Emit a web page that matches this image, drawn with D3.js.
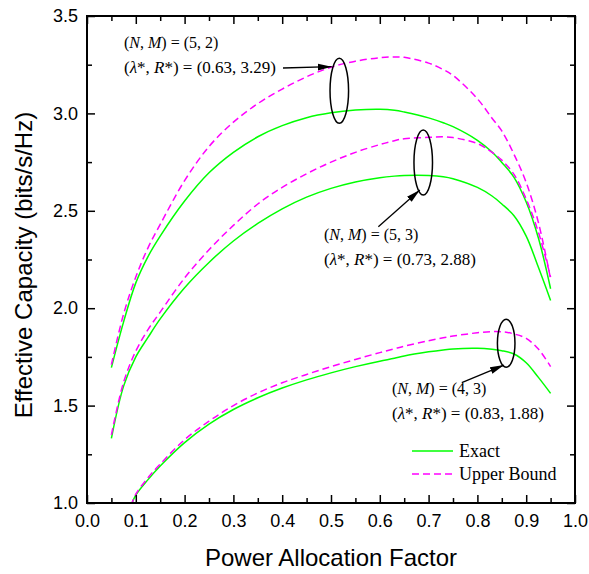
<!DOCTYPE html>
<html>
<head>
<meta charset="utf-8">
<script src="https://cdn.jsdelivr.net/npm/d3@7"></script>
<style>
  body { margin: 0; background: #fff; }
  svg { display: block; }
</style>
</head>
<body>
<svg id="chart" width="589" height="574"></svg>
<script>
// Power allocation factor grid shared by the (5,2) and (5,3) curves
const lambda = [0.05, 0.075, 0.1, 0.125, 0.15, 0.2, 0.25, 0.3, 0.35, 0.4, 0.45, 0.5, 0.55, 0.6, 0.63, 0.65, 0.7, 0.73, 0.75, 0.8, 0.83, 0.85, 0.875, 0.9, 0.925, 0.95];

// (N, M) = (5, 2)
const exact52 = [1.695, 1.93, 2.13, 2.265, 2.37, 2.55, 2.695, 2.80, 2.88, 2.937, 2.978, 3.003, 3.017, 3.021, 3.016, 3.007, 2.977, 2.952, 2.932, 2.862, 2.802, 2.748, 2.672, 2.545, 2.36, 2.10];
const upper52 = [1.71, 1.97, 2.16, 2.31, 2.43, 2.655, 2.83, 2.955, 3.05, 3.125, 3.188, 3.237, 3.268, 3.286, 3.29, 3.288, 3.258, 3.225, 3.195, 3.075, 2.975, 2.91, 2.79, 2.645, 2.44, 2.15];

// (N, M) = (5, 3)
const exact53 = [1.332, 1.60, 1.75, 1.85, 1.945, 2.105, 2.235, 2.345, 2.435, 2.51, 2.57, 2.615, 2.648, 2.67, 2.678, 2.681, 2.681, 2.675, 2.665, 2.62, 2.576, 2.535, 2.475, 2.37, 2.21, 2.04];
const upper53 = [1.35, 1.62, 1.78, 1.89, 1.98, 2.155, 2.30, 2.425, 2.535, 2.62, 2.69, 2.75, 2.80, 2.84, 2.86, 2.87, 2.877, 2.88, 2.876, 2.845, 2.80, 2.76, 2.687, 2.56, 2.39, 2.16];

// (N, M) = (4, 3) starts a little later
const lambda43 = [0.09, 0.1, 0.125, 0.15, 0.2, 0.25, 0.3, 0.35, 0.4, 0.45, 0.5, 0.55, 0.6, 0.63, 0.65, 0.7, 0.73, 0.75, 0.8, 0.83, 0.85, 0.875, 0.9, 0.925, 0.95];
const exact43 = [0.985, 1.04, 1.12, 1.19, 1.31, 1.405, 1.48, 1.54, 1.59, 1.632, 1.668, 1.70, 1.728, 1.743, 1.755, 1.776, 1.786, 1.791, 1.794, 1.789, 1.782, 1.765, 1.72, 1.645, 1.563];
const upper43 = [0.985, 1.045, 1.13, 1.20, 1.325, 1.42, 1.50, 1.565, 1.617, 1.66, 1.70, 1.737, 1.772, 1.792, 1.805, 1.833, 1.848, 1.857, 1.874, 1.88, 1.879, 1.868, 1.845, 1.79, 1.70];

// Axis ticks
const xTicks = [0, 0.1, 0.2, 0.3, 0.4, 0.5, 0.6, 0.7, 0.8, 0.9, 1.0];
const xMinorTicks = [0.05, 0.15, 0.25, 0.35, 0.45, 0.55, 0.65, 0.75, 0.85, 0.95];
const yTicks = [1.0, 1.5, 2.0, 2.5, 3.0, 3.5];
const yMinorTicks = [1.25, 1.75, 2.25, 2.75, 3.25];

// Optimal points annotated on the plot
const pairs = [[5, 2], [5, 3], [4, 3]];
const optLambda = [0.63, 0.73, 0.83];
const optRate = [3.29, 2.88, 1.88];

// Marker ellipses (centre and radii in data units)
const ellipseCx = [0.517, 0.689, 0.859];
const ellipseCy = [3.116, 2.748, 1.820];
const ellipseRx = [0.019, 0.019, 0.018];
const ellipseRy = [0.167, 0.167, 0.123];

// Arrows from labels to ellipses (data units)
const arrowFrom = [[0.4016, 3.233], [0.597, 2.418], [0.768, 1.618]];
const arrowTo = [[0.5014, 3.240], [0.682, 2.607], [0.8545, 1.708]];

// Label anchors (first line baseline, data units)
const labelAt = [[0.0758, 3.337], [0.4857, 2.350], [0.625, 1.5595]];

const legendLabels = ["Exact", "Upper Bound"];

const GREEN = "#00ff00";
const MAGENTA = "#ff00ff";

const svg = d3.select("#chart");
const plotLeft = 87, plotRight = 575, plotTop = 16, plotBottom = 503;

const x = d3.scaleLinear().domain([0, 1]).range([plotLeft, plotRight]);
const y = d3.scaleLinear().domain([1, 3.5]).range([plotBottom, plotTop]);

// clip region for the curves
const defs = svg.append("defs");
defs.append("clipPath").attr("id", "plotClip")
  .append("rect").attr("x", plotLeft).attr("y", plotTop)
  .attr("width", plotRight - plotLeft).attr("height", plotBottom - plotTop);

defs.append("marker")
  .attr("id", "arrowHead")
  .attr("viewBox", "0 0 14 8")
  .attr("refX", 14).attr("refY", 4)
  .attr("markerWidth", 14).attr("markerHeight", 8)
  .attr("markerUnits", "userSpaceOnUse")
  .attr("orient", "auto")
  .append("path").attr("d", "M0,0.5 L14,4 L0,7.5 Z").attr("fill", "#000");

// --- Curves ---
const line = d3.line()
  .x(d => x(d[0]))
  .y(d => y(d[1]))
  .curve(d3.curveCatmullRom.alpha(0.5));

const series = [
  { xs: lambda, ys: exact52, dashed: false },
  { xs: lambda, ys: exact53, dashed: false },
  { xs: lambda43, ys: exact43, dashed: false },
  { xs: lambda, ys: upper52, dashed: true },
  { xs: lambda, ys: upper53, dashed: true },
  { xs: lambda43, ys: upper43, dashed: true }
];

const curves = svg.append("g").attr("clip-path", "url(#plotClip)");
series.forEach(s => {
  curves.append("path")
    .datum(s.xs.map((v, i) => [v, s.ys[i]]))
    .attr("d", line)
    .attr("fill", "none")
    .attr("stroke", s.dashed ? MAGENTA : GREEN)
    .attr("stroke-width", 1.5)
    .attr("stroke-dasharray", s.dashed ? "7,4" : null);
});

// --- Axes ---
const axisFont = "'Liberation Sans', Arial, sans-serif";

function styleAxis(g) {
  g.select(".domain").remove();
  g.selectAll(".tick line").attr("stroke", "#000").attr("stroke-width", 1.5);
  g.selectAll(".tick text")
    .attr("fill", "#000")
    .style("font-family", axisFont)
    .style("font-size", "18px");
}

svg.append("g").attr("transform", `translate(0,${plotBottom})`)
  .call(d3.axisBottom(x).tickValues(xTicks).tickFormat(d3.format(".1f")).tickSizeInner(-8).tickSizeOuter(0).tickPadding(11))
  .call(styleAxis);
svg.append("g").attr("transform", `translate(0,${plotBottom})`)
  .call(d3.axisBottom(x).tickValues(xMinorTicks).tickFormat("").tickSizeInner(-5).tickSizeOuter(0))
  .call(styleAxis);
svg.append("g").attr("transform", `translate(0,${plotTop})`)
  .call(d3.axisTop(x).tickValues(xTicks).tickFormat("").tickSizeInner(-8).tickSizeOuter(0))
  .call(styleAxis);
svg.append("g").attr("transform", `translate(0,${plotTop})`)
  .call(d3.axisTop(x).tickValues(xMinorTicks).tickFormat("").tickSizeInner(-5).tickSizeOuter(0))
  .call(styleAxis);

svg.append("g").attr("transform", `translate(${plotLeft},0)`)
  .call(d3.axisLeft(y).tickValues(yTicks).tickFormat(d3.format(".1f")).tickSizeInner(-8).tickSizeOuter(0).tickPadding(9))
  .call(styleAxis);
svg.append("g").attr("transform", `translate(${plotLeft},0)`)
  .call(d3.axisLeft(y).tickValues(yMinorTicks).tickFormat("").tickSizeInner(-5).tickSizeOuter(0))
  .call(styleAxis);
svg.append("g").attr("transform", `translate(${plotRight},0)`)
  .call(d3.axisRight(y).tickValues(yTicks).tickFormat("").tickSizeInner(-8).tickSizeOuter(0))
  .call(styleAxis);
svg.append("g").attr("transform", `translate(${plotRight},0)`)
  .call(d3.axisRight(y).tickValues(yMinorTicks).tickFormat("").tickSizeInner(-5).tickSizeOuter(0))
  .call(styleAxis);

// frame
svg.append("rect")
  .attr("x", plotLeft).attr("y", plotTop)
  .attr("width", plotRight - plotLeft).attr("height", plotBottom - plotTop)
  .attr("fill", "none").attr("stroke", "#000").attr("stroke-width", 2);

// axis titles
svg.append("text")
  .attr("x", (plotLeft + plotRight) / 2).attr("y", 566)
  .attr("text-anchor", "middle")
  .style("font-family", axisFont).style("font-size", "24px")
  .text("Power Allocation Factor");

svg.append("text")
  .attr("transform", "translate(32,265) rotate(-90)")
  .attr("text-anchor", "middle")
  .style("font-family", axisFont).style("font-size", "24px")
  .text("Effective Capacity (bits/s/Hz)");

// --- Annotations ---
const serif = "'Liberation Serif', 'Times New Roman', serif";

ellipseCx.forEach((cx, i) => {
  svg.append("ellipse")
    .attr("cx", x(cx)).attr("cy", y(ellipseCy[i]))
    .attr("rx", x(cx + ellipseRx[i]) - x(cx))
    .attr("ry", y(ellipseCy[i]) - y(ellipseCy[i] + ellipseRy[i]))
    .attr("fill", "none").attr("stroke", "#000").attr("stroke-width", 1.5);
});

arrowFrom.forEach((a, i) => {
  svg.append("line")
    .attr("x1", x(a[0])).attr("y1", y(a[1]))
    .attr("x2", x(arrowTo[i][0])).attr("y2", y(arrowTo[i][1]))
    .attr("stroke", "#000").attr("stroke-width", 1.3)
    .attr("marker-end", "url(#arrowHead)");
});

function addLabel(i) {
  const g = svg.append("g").style("font-family", serif);
  const t1 = g.append("text").style("font-size", "16px")
    .attr("x", x(labelAt[i][0])).attr("y", y(labelAt[i][1]));
  t1.append("tspan").text("(");
  t1.append("tspan").style("font-style", "italic").text("N");
  t1.append("tspan").text(", ");
  t1.append("tspan").style("font-style", "italic").text("M");
  t1.append("tspan").text(`) = (${pairs[i][0]}, ${pairs[i][1]})`);

  const t2 = g.append("text").style("font-size", "17px")
    .attr("x", x(labelAt[i][0])).attr("y", y(labelAt[i][1]) + 25);
  t2.append("tspan").text("(");
  t2.append("tspan").style("font-style", "italic").text("λ");
  t2.append("tspan").text("*, ");
  t2.append("tspan").style("font-style", "italic").text("R");
  t2.append("tspan").text(`*) = (${optLambda[i].toFixed(2)}, ${optRate[i].toFixed(2)})`);
}
pairs.forEach((p, i) => addLabel(i));

// --- Legend ---
const legend = svg.append("g").style("font-family", serif).style("font-size", "18px");
legendLabels.forEach((name, i) => {
  const ly = 451 + i * 23;
  legend.append("line")
    .attr("x1", 412).attr("x2", 453).attr("y1", ly).attr("y2", ly)
    .attr("stroke", i === 0 ? GREEN : MAGENTA)
    .attr("stroke-width", 1.5)
    .attr("stroke-dasharray", i === 0 ? null : "7,4");
  legend.append("text").attr("x", 459).attr("y", ly + 6).text(name);
});
</script>
</body>
</html>
